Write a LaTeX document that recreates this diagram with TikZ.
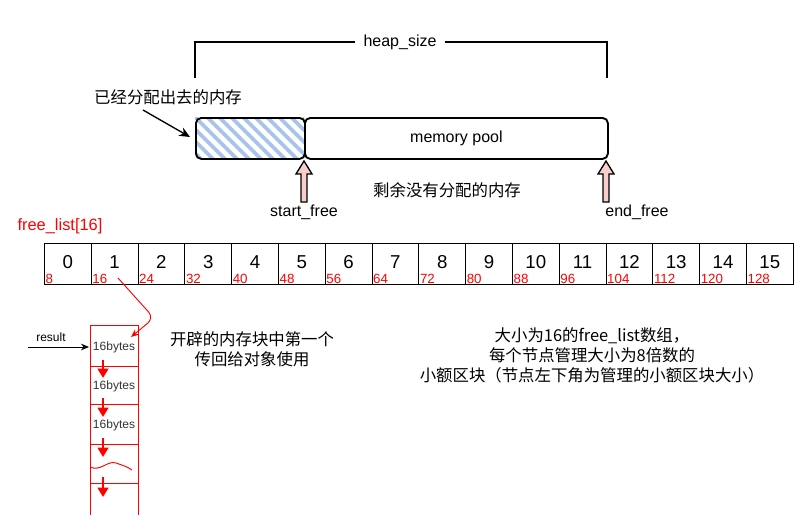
\documentclass[tikz,border=0pt]{standalone}
\usepackage{fontspec}
\setmainfont{Liberation Sans}
\newfontfamily\cjk{Noto Sans CJK SC}
\usetikzlibrary{arrows.meta}
\definecolor{hatch}{HTML}{A9C4EB}
\definecolor{pinkfill}{HTML}{F8CECC}
\definecolor{redc}{HTML}{FF0000}
\begin{document}
\begin{tikzpicture}[x=0.75pt,y=-0.75pt,
  txt/.style={inner sep=0pt,font=\fontsize{12}{14}\selectfont},
  cjktxt/.style={inner sep=0pt,font=\cjk\fontsize{12.3}{15}\selectfont,align=center},
  cellbox/.style={draw=black,line width=0.6pt,minimum width=46.8*0.75pt,minimum height=41*0.75pt,inner sep=0pt,anchor=north west,font=\fontsize{14}{16}\selectfont},
  sizelab/.style={text=redc,inner sep=1pt,font=\fontsize{10}{11}\selectfont},
  pinkarrow/.style={fill=pinkfill,draw=black,line width=1pt},
  redarrow/.style={redc,line width=1.6pt,-{Triangle[length=7pt,width=8pt]}},
  blockline/.style={redc,line width=0.7pt},
  bytes/.style={inner sep=0pt,font=\fontsize{9}{10}\selectfont,text=black!80}]
\useasboundingbox (0,0) rectangle (808,529);

% heap_size bracket
\node[txt] (heap) at (400,42) {heap\_size};
\coordinate (hl) at (195,78);
\coordinate (hr) at (607,78);
\draw[line width=1pt] (hl) -- (195,42) -- ([xshift=-8*0.75pt]heap.west);
\draw[line width=1pt] ([xshift=8*0.75pt]heap.east) -- (607,42) -- (hr);

% allocated region (hatched)
\begin{scope}
  \clip (195,117) rectangle (304,158);
  \foreach \i in {-60,-48,...,120} {
    \draw[hatch,line width=2.8pt] (195+\i,117) -- (195+\i+45,162);
  }
\end{scope}
\node[draw=black,line width=1.4pt,rounded corners=4pt,minimum width=109*0.75pt,minimum height=41*0.75pt,anchor=north west,inner sep=0pt] (alloc) at (195,117) {};
\node[draw=black,line width=1.4pt,rounded corners=4pt,minimum width=303*0.75pt,minimum height=41*0.75pt,anchor=north west,inner sep=0pt] (pool) at (304,117) {};
\node[txt] at (pool.center) {memory pool};

% allocated label
\node[cjktxt] (alab) at (168,97) {已经分配出去的内存};
\coordinate (aend) at (190,137);
\draw[line width=1pt,-{Stealth[length=8pt,width=7pt]}] (143,110) -- (aend);

% start_free / end_free arrows
\foreach \c/\nm in {304/sf,606/ef} {
  \draw[pinkarrow] (\c-3,202) -- (\c+3,202) -- (\c+3,174) -- (\c+8,174) -- (\c,161) -- (\c-8,174) -- (\c-3,174) -- cycle;
}
\node[txt] (sflab) at (304,212) {start\_free};
\node[txt] (eflab) at (637,212) {end\_free};
\node[cjktxt] (rem) at (447,190) {剩余没有分配的内存};

% free list
\node[txt,text=redc,font=\fontsize{12.3}{14}\selectfont] (fl) at (60,226) {free\_list[16]};
\foreach \i [evaluate=\i as \sz using int(8*(\i+1))] in {0,...,15} {
  \node[cellbox] (c\i) at ({44+46.8*\i},243) {\raisebox{3pt}{\i}};
  \node[sizelab,anchor=south west] at (c\i.south west) {\sz};
}

% red pointer from cell 1
\coordinate (p0) at (118,278);
\coordinate (p2) at (131,337);
\draw[redc,line width=0.7pt,rounded corners=6pt,-{Stealth[length=6pt,width=5pt]}] (p0) -- (154,318) -- (p2);

% red block column
\draw[blockline] (90,515) -- (90,325) -- (138,325) -- (138,515);
\foreach \y in {366,404,444,483} {
  \draw[blockline] (90,\y) -- (138,\y);
}
\draw[blockline] (90,467) .. controls (100,472) and (108,460) .. (116,463) .. controls (122,465) and (128,467) .. (132,470);
\node[bytes] (b1) at (114,347) {16bytes};
\node[bytes] (b2) at (114,386) {16bytes};
\node[bytes] (b3) at (114,425) {16bytes};
\foreach \a/\b in {360/378,398/417,438/457,477/497} {
  \draw[redarrow] (103,\a) -- (103,\b);
}

% result
\node[inner sep=0pt,font=\fontsize{9}{10}\selectfont] (res) at (51,337) {result};
\coordinate (rs) at (28,347);
\coordinate (re) at (89,347);
\draw[line width=0.7pt,-{Stealth[length=6pt,width=5pt]}] (rs) -- (re);

% texts
\node[cjktxt] (first) at (252,349) {开辟的内存块中第一个\\传回给对象使用};
\node[cjktxt] (desc) at (592,355) {大小为16的free\_list数组，\\每个节点管理大小为8倍数的\\小额区块（节点左下角为管理的小额区块大小）};
\end{tikzpicture}
\end{document}
